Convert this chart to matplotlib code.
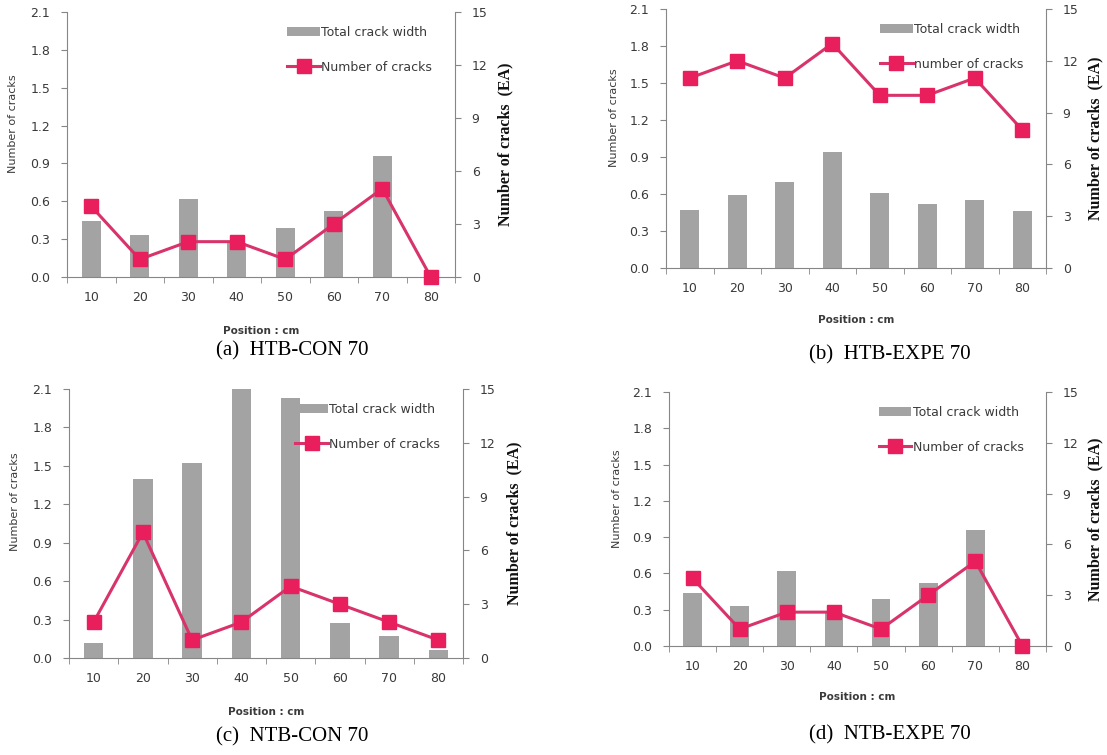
import matplotlib
matplotlib.use("Agg")
import matplotlib.pyplot as plt
import numpy as np

positions = [10, 20, 30, 40, 50, 60, 70, 80]

# total crack width (left axis) and number of cracks (right axis, EA)
htb_con_width = [0.44, 0.33, 0.62, 0.27, 0.39, 0.52, 0.96, 0.0]
htb_con_count = [4, 1, 2, 2, 1, 3, 5, 0]

htb_expe_width = [0.47, 0.59, 0.70, 0.94, 0.61, 0.52, 0.55, 0.46]
htb_expe_count = [11, 12, 11, 13, 10, 10, 11, 8]

ntb_con_width = [0.12, 1.40, 1.52, 2.10, 2.03, 0.27, 0.17, 0.06]
ntb_con_count = [2, 7, 1, 2, 4, 3, 2, 1]

ntb_expe_width = [0.44, 0.33, 0.62, 0.27, 0.39, 0.52, 0.96, 0.0]
ntb_expe_count = [4, 1, 2, 2, 1, 3, 5, 0]

captions = ["(a)  HTB-CON 70", "(b)  HTB-EXPE 70",
            "(c)  NTB-CON 70", "(d)  NTB-EXPE 70"]
line_labels = ["Number of cracks", "number of cracks",
               "Number of cracks", "Number of cracks"]

BAR = "#a3a3a3"
LINE = "#d8336a"
MARK = "#e91e5c"
SPINE = "#868686"
TXT = "#3a3a3a"

W, H = 1107, 755
fig = plt.figure(figsize=(W / 100, H / 100), dpi=100)


def px_axes(left, top, right, bottom):
    return fig.add_axes([left / W, 1 - bottom / H, (right - left) / W, (bottom - top) / H])


def panel(box, widths, counts, line_label, caption, cap_xy, xlab_y):
    ax = px_axes(*box)
    x = np.arange(len(positions))
    bars = ax.bar(x, widths, width=0.4, color=BAR, label="Total crack width", zorder=1)
    ax.set_xlim(-0.5, len(positions) - 0.5)
    ax.set_ylim(0, 2.1)
    ax.set_yticks(np.arange(0, 2.11, 0.3))
    ax.set_yticklabels([f"{v:.1f}" for v in np.arange(0, 2.11, 0.3)])
    ax.set_xticks(x)
    ax.set_xticklabels([str(p) for p in positions])
    ax.set_xticks(np.arange(-0.5, len(positions), 1.0), minor=True)
    ax.tick_params(axis="x", which="major", length=0, pad=10, labelsize=9, labelcolor=TXT)
    ax.tick_params(axis="x", which="minor", length=4, color=SPINE, direction="out")
    ax.tick_params(axis="y", length=4, color=SPINE, labelsize=9, labelcolor=TXT, pad=8)
    for s in ["top", "right"]:
        ax.spines[s].set_visible(False)
    for s in ["left", "bottom"]:
        ax.spines[s].set_color(SPINE)
    ax.set_ylabel("Number of cracks", fontsize=8, color=TXT)
    ax.yaxis.set_label_coords(-0.125, 0.58)

    ax2 = ax.twinx()
    line, = ax2.plot(x, counts, color=LINE, lw=2.2, marker="s", markersize=9.5,
                     markerfacecolor=MARK, markeredgecolor=MARK, label=line_label,
                     clip_on=False, zorder=3)
    ax2.set_ylim(0, 15)
    ax2.set_yticks(range(0, 16, 3))
    ax2.tick_params(axis="y", length=4, color=SPINE, labelsize=9, labelcolor=TXT, pad=8)
    for s in ["top", "left", "bottom"]:
        ax2.spines[s].set_visible(False)
    ax2.spines["right"].set_color(SPINE)
    ax2.set_ylabel("Number of cracks  (EA)", fontsize=11.5, fontweight="bold",
                   family="Liberation Serif", color="#111111")
    ax2.yaxis.set_label_coords(1.11, 0.5)

    ax2.legend([bars, line], ["Total crack width", line_label], loc="upper right",
               bbox_to_anchor=(0.97, 0.99), frameon=False, fontsize=9,
               handlelength=2.6, labelspacing=1.75, handletextpad=0.1,
               labelcolor=TXT)

    cx = (box[0] + box[2]) / 2
    fig.text(cx / W, 1 - xlab_y / H, "Position : cm", ha="center", va="center",
             fontsize=7.5, fontweight="bold", color=TXT)
    fig.text(cap_xy[0] / W, 1 - cap_xy[1] / H, caption, ha="center", va="center",
             fontsize=15, family="Liberation Serif", color="black")


panel((67, 12, 455, 277), htb_con_width, htb_con_count, line_labels[0],
      captions[0], (292, 351), 331)
panel((666, 9, 1046, 268), htb_expe_width, htb_expe_count, line_labels[1],
      captions[1], (890, 355), 320)
panel((69, 389, 463, 658), ntb_con_width, ntb_con_count, line_labels[2],
      captions[2], (292, 737), 712)
panel((669, 392, 1046, 646), ntb_expe_width, ntb_expe_count, line_labels[3],
      captions[3], (890, 735), 697)

fig.savefig("out.png", dpi=100)
